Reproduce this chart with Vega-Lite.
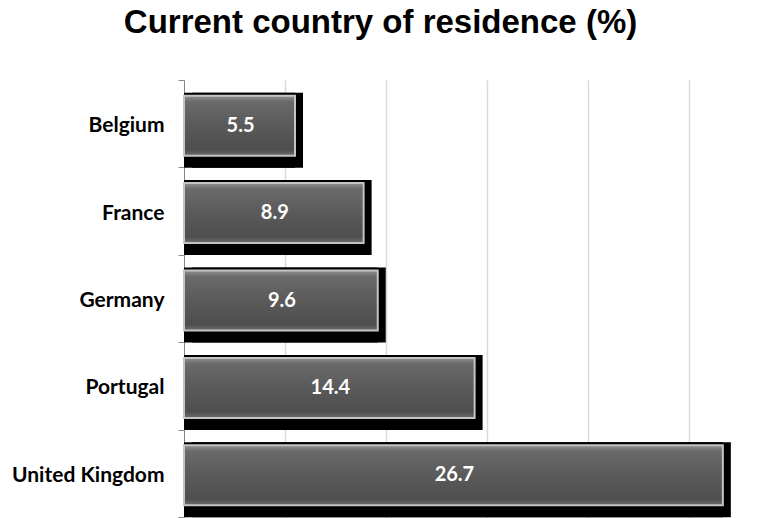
{
  "$schema": "https://vega.github.io/schema/vega-lite/v6.json",
  "autosize": "none",
  "width": 555,
  "height": 437,
  "padding": {"left": 184, "top": 80, "right": 35, "bottom": 1},
  "background": "white",
  "title": {
    "text": "Current country of residence (%)",
    "font": "Liberation Sans",
    "fontSize": 33,
    "fontWeight": "bold",
    "color": "black",
    "anchor": "middle",
    "dx": -81,
    "offset": 29
  },
  "data": {
    "values": [
      {"country": "Belgium", "value": 5.5},
      {"country": "France", "value": 8.9},
      {"country": "Germany", "value": 9.6},
      {"country": "Portugal", "value": 14.4},
      {"country": "United Kingdom", "value": 26.7}
    ]
  },
  "config": {"view": {"stroke": null}},
  "encoding": {
    "y": {
      "field": "country",
      "type": "nominal",
      "sort": null,
      "scale": {"paddingInner": 0, "paddingOuter": 0},
      "axis": {
        "title": null,
        "domainColor": "#868686",
        "tickColor": "#868686",
        "tickSize": 6,
        "tickBand": "extent",
        "labelFont": "Lato",
        "labelFontSize": 21,
        "labelFontWeight": "bold",
        "labelColor": "black",
        "labelPadding": 14,
        "labelOffset": 2,
        "grid": false
      }
    }
  },
  "layer": [
    {
      "mark": {"type": "bar", "color": "black", "size": 75, "yOffset": 6.5},
      "encoding": {
        "x": {
          "field": "value",
          "type": "quantitative",
          "scale": {"domain": [0, 27.5], "nice": false},
          "axis": {
            "title": null,
            "values": [5, 10, 15, 20, 25],
            "labels": false,
            "ticks": false,
            "domain": false,
            "grid": true,
            "gridColor": "#d9d9d9",
            "gridWidth": 1.5
          }
        }
      }
    },
    {
      "mark": {"type": "bar", "color": "black", "size": 75, "yOffset": 6.5, "xOffset": 8},
      "encoding": {
        "x": {"field": "value", "type": "quantitative"}
      }
    },
    {
      "mark": {
        "type": "bar",
        "size": 60,
        "yOffset": 2,
        "stroke": "#c4c4c4",
        "strokeWidth": 2,
        "color": {
          "gradient": "linear",
          "x1": 0, "y1": 0, "x2": 0, "y2": 1,
          "stops": [
            {"offset": 0, "color": "#909090"},
            {"offset": 0.1, "color": "#6a6a6a"},
            {"offset": 0.5, "color": "#5a5a5a"},
            {"offset": 0.9, "color": "#4e4e4e"},
            {"offset": 1, "color": "#6e6e6e"}
          ]
        }
      },
      "encoding": {
        "x": {"field": "value", "type": "quantitative"}
      }
    },
    {
      "transform": [{"calculate": "datum.value / 2", "as": "mid"}],
      "mark": {
        "type": "text",
        "color": "white",
        "font": "Lato",
        "fontSize": 20,
        "fontWeight": "bold",
        "yOffset": 2,
        "xOffset": 1
      },
      "encoding": {
        "x": {"field": "mid", "type": "quantitative"},
        "text": {"field": "value", "type": "quantitative", "format": ".1f"}
      }
    }
  ]
}
